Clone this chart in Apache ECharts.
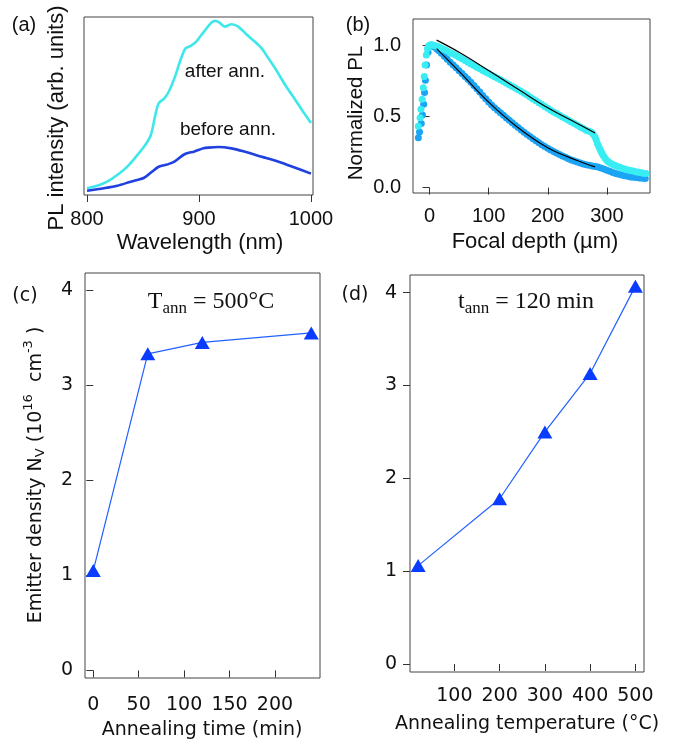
<!DOCTYPE html>
<html>
<head>
<meta charset="utf-8">
<script src="https://cdn.jsdelivr.net/npm/echarts@6/dist/echarts.min.js"></script>
<style>
html,body{margin:0;padding:0;background:#fff;}
#c{width:683px;height:742px;}
</style>
</head>
<body>
<div id="c"></div>
<script>
// ---- Panel (a): PL spectra ----
const aAfterX = [800,809,818,827,836,845,852,857,861,864,869,873,878,884,888,893,898,905,914,918,923,929,935,943,950,956,960,968,977,986,993,1000];
const aAfterY = [0.038,0.052,0.075,0.112,0.159,0.225,0.281,0.337,0.449,0.515,0.543,0.58,0.655,0.768,0.824,0.839,0.865,0.922,0.978,0.97,0.946,0.959,0.946,0.899,0.861,0.824,0.787,0.712,0.618,0.534,0.468,0.405];
const aBeforeX = [800,815,827,839,851,858,864,872,878,887,896,904,908,917,929,941,956,971,986,1000];
const aBeforeY = [0.024,0.038,0.052,0.075,0.097,0.131,0.159,0.172,0.187,0.229,0.245,0.262,0.266,0.27,0.262,0.243,0.215,0.187,0.153,0.12];
const aTicks = [800,900,1000];

// ---- Panel (b): normalized PL vs focal depth ----
const bCyanX = [-19,-16,-14.5,-12.5,-10.5,-9,-7.5,-5.5,-3.5,-1.5,1,4,7,10,14,18,22,26,30,35,40,45,50,55,60,65,70,75,80,85,90,95,100,105,110,115,120,125,130,135,140,145,150,155,160,165,170,175,180,185,190,195,200,205,210,215,220,225,230,235,240,245,250,255,260,265,270,274,277,280,282,284,286,288,290,292,294,297,300,303,306,310,314,318,322,326,330,334,338,342,346,350,354,358,362,366];
const bCyanY = [0.43,0.49,0.55,0.62,0.70,0.78,0.86,0.93,0.975,0.995,1.0,1.0,0.998,0.995,0.99,0.983,0.975,0.967,0.958,0.947,0.937,0.926,0.915,0.904,0.892,0.88,0.868,0.857,0.845,0.834,0.822,0.811,0.80,0.789,0.778,0.767,0.756,0.744,0.732,0.721,0.709,0.698,0.686,0.675,0.662,0.649,0.636,0.622,0.609,0.596,0.583,0.569,0.556,0.543,0.53,0.519,0.507,0.496,0.484,0.473,0.461,0.449,0.437,0.426,0.414,0.402,0.395,0.388,0.375,0.355,0.335,0.31,0.29,0.273,0.255,0.24,0.225,0.205,0.19,0.18,0.17,0.162,0.155,0.148,0.142,0.136,0.13,0.126,0.122,0.118,0.114,0.11,0.107,0.104,0.101,0.098];
const bBlueX = [-19,-17,-14,-12,-10,-8.5,-7,-5,-2.5,0,3,6,9,12,15,20,25,30,35,40,45,50,55,60,65,70,75,80,85,90,95,100,105,110,115,120,125,130,135,140,145,150,155,160,165,170,175,180,185,190,195,200,205,210,215,220,225,230,235,240,245,250,255,260,265,270,275,280,285,290,295,300,305,310,315,320,325,330,335,340,345,350,355,360,365];
const bBlueY = [0.35,0.39,0.45,0.51,0.585,0.667,0.753,0.86,0.95,0.99,1.0,0.995,0.985,0.975,0.962,0.942,0.921,0.9,0.88,0.861,0.841,0.82,0.8,0.78,0.76,0.739,0.717,0.694,0.671,0.647,0.623,0.60,0.58,0.561,0.543,0.525,0.507,0.489,0.472,0.455,0.438,0.421,0.404,0.388,0.373,0.358,0.343,0.328,0.314,0.301,0.288,0.276,0.264,0.253,0.242,0.232,0.222,0.212,0.202,0.194,0.186,0.179,0.172,0.166,0.161,0.156,0.152,0.148,0.144,0.138,0.13,0.122,0.114,0.106,0.099,0.093,0.088,0.083,0.079,0.075,0.072,0.07,0.067,0.065,0.063];
const bFitCyanX = [12,50,100,150,200,250,280];
const bFitCyanY = [1.035,0.95,0.822,0.69,0.56,0.45,0.383];
const bFitBlueX = [12,50,100,150,200,250,280];
const bFitBlueY = [0.975,0.815,0.60,0.42,0.28,0.19,0.145];
const bXTicks = [0,100,200,300];
const bYTicks = [0,0.5,1.0];

// ---- Panel (c): emitter density vs annealing time ----
const cTime = [0,60,120,240];
const cDensity = [1.05,3.33,3.45,3.55];
const cXTicks = [0,50,100,150,200];
const cYTicks = [0,1,2,3,4];

// ---- Panel (d): emitter density vs annealing temperature ----
const dTemp = [20,200,300,400,500];
const dDensity = [1.06,1.78,2.50,3.13,4.07];
const dXTicks = [100,200,300,400,500];
const dYTicks = [0,1,2,3,4];

const zip = (xs, ys) => xs.map((x, i) => [x, ys[i]]);

const SANS = '"Liberation Sans", Arial, sans-serif';
const SANS2 = '"DejaVu Sans", sans-serif';
const SERIF = '"Liberation Serif", "DejaVu Serif", serif';

function grid(l, t, w, h) {
  return {left: l, top: t, width: w, height: h, show: true, borderColor: '#444', borderWidth: 1, backgroundColor: 'transparent', containLabel: false};
}
function axis(gi, min, max, ticks, font, size, margin, fmt, showTicks) {
  return {
    type: 'value', gridIndex: gi, min: min, max: max,
    axisLine: {show: false},
    splitLine: {show: false},
    axisTick: {show: showTicks !== false, inside: false, length: 7, lineStyle: {color: '#333', width: 1}, customValues: ticks},
    axisLabel: {show: showTicks !== false, customValues: ticks, fontFamily: font, fontSize: size, color: '#111', margin: margin,
      formatter: fmt || (v => String(v))}
  };
}

const option = {
  animation: false,
  backgroundColor: '#fff',
  grid: [
    grid(84, 17, 229, 178),
    grid(413, 19, 237, 174),
    grid(85, 273, 235, 405),
    grid(410, 275, 234, 397)
  ],
  xAxis: [
    axis(0, 797.3, 1001.8, aTicks, SANS, 20, 14),
    axis(1, -28, 373, bXTicks, SANS, 20, 13),
    axis(2, -9.1, 249.6, cXTicks, SANS2, 19, 18),
    axis(3, 2, 519, dXTicks, SANS2, 19, 15)
  ],
  yAxis: [
    axis(0, 0, 1, [], SANS, 20, 10, null, false),
    axis(1, -0.038, 1.183, bYTicks, SANS, 20, 12, v => v.toFixed(1)),
    axis(2, -0.08, 4.18, cYTicks, SANS2, 19, 12),
    axis(3, -0.086, 4.19, dYTicks, SANS2, 19, 13)
  ],
  series: [
    {type: 'line', xAxisIndex: 0, yAxisIndex: 0, data: zip(aAfterX, aAfterY), showSymbol: false, smooth: 0.3,
      lineStyle: {color: '#3ee8ea', width: 2.6}},
    {type: 'line', xAxisIndex: 0, yAxisIndex: 0, data: zip(aBeforeX, aBeforeY), showSymbol: false, smooth: 0.3,
      lineStyle: {color: '#2040e0', width: 2.6}},
    {type: 'scatter', xAxisIndex: 1, yAxisIndex: 1, data: zip(bBlueX, bBlueY), symbolSize: 7,
      itemStyle: {color: '#1ba4f4', opacity: 1}},
    {type: 'scatter', xAxisIndex: 1, yAxisIndex: 1, data: zip(bCyanX, bCyanY), symbolSize: 7,
      itemStyle: {color: '#38eef2', opacity: 1}},
    {type: 'line', xAxisIndex: 1, yAxisIndex: 1, data: zip(bFitCyanX, bFitCyanY), showSymbol: false, smooth: 0.4,
      lineStyle: {color: '#000', width: 1.2}, z: 5},
    {type: 'line', xAxisIndex: 1, yAxisIndex: 1, data: zip(bFitBlueX, bFitBlueY), showSymbol: false, smooth: 0.4,
      lineStyle: {color: '#000', width: 1.2}, z: 5},
    {type: 'line', xAxisIndex: 2, yAxisIndex: 2, data: zip(cTime, cDensity), symbol: 'triangle', symbolSize: [15, 13],
      showAllSymbol: true, clip: false,
      lineStyle: {color: '#2160ff', width: 1.2}, itemStyle: {color: '#0a3cff'}},
    {type: 'line', xAxisIndex: 3, yAxisIndex: 3, data: zip(dTemp, dDensity), symbol: 'triangle', symbolSize: [15, 13],
      showAllSymbol: true, clip: false,
      lineStyle: {color: '#2160ff', width: 1.2}, itemStyle: {color: '#0a3cff'}}
  ],
  graphic: [
    // panel labels
    {type: 'text', x: 24, y: 25, style: {text: '(a)', font: '20px ' + SANS, fill: '#111', align: 'center', verticalAlign: 'middle'}},
    {type: 'text', x: 358, y: 25, style: {text: '(b)', font: '20px ' + SANS, fill: '#111', align: 'center', verticalAlign: 'middle'}},
    {type: 'text', x: 25, y: 296, style: {text: '(c)', font: '19px ' + SANS2, fill: '#111', align: 'center', verticalAlign: 'middle'}},
    {type: 'text', x: 355, y: 295, style: {text: '(d)', font: '19px ' + SANS2, fill: '#111', align: 'center', verticalAlign: 'middle'}},
    // panel (a) texts
    {type: 'text', x: 57, y: 118, rotation: Math.PI / 2, style: {text: 'PL intensity (arb. units)', font: '22px ' + SANS, fill: '#111', align: 'center', verticalAlign: 'middle'}},
    {type: 'text', x: 200, y: 243, style: {text: 'Wavelength (nm)', font: '22px ' + SANS, fill: '#111', align: 'center', verticalAlign: 'middle'}},
    {type: 'text', x: 225, y: 72, style: {text: 'after ann.', font: '19px ' + SANS, fill: '#111', align: 'center', verticalAlign: 'middle'}},
    {type: 'text', x: 228, y: 130, style: {text: 'before ann.', font: '19px ' + SANS, fill: '#111', align: 'center', verticalAlign: 'middle'}},
    // panel (b) texts
    {type: 'text', x: 356, y: 113, rotation: Math.PI / 2, style: {text: 'Normalized PL', font: '20.5px ' + SANS, fill: '#111', align: 'center', verticalAlign: 'middle'}},
    {type: 'text', x: 535, y: 242, style: {text: 'Focal depth (\u00b5m)', font: '22px ' + SANS, fill: '#111', align: 'center', verticalAlign: 'middle'}},
    // panel (c) texts
    {type: 'text', x: 36, y: 475, rotation: Math.PI / 2, style: {
      text: '{n|Emitter density N}{sub|V}{n| (10}{sup|16}{n|  cm}{sup|-3}{n| )}',
      align: 'center', verticalAlign: 'middle',
      rich: {
        n: {font: '19px ' + SANS2, fill: '#111', lineHeight: 30, verticalAlign: 'middle'},
        sub: {font: '13px ' + SANS2, fill: '#111', lineHeight: 30, verticalAlign: 'bottom', padding: [0, 0, 4, 0]},
        sup: {font: '13px ' + SANS2, fill: '#111', lineHeight: 30, verticalAlign: 'top', padding: [1, 0, 0, 0]}
      }}},
    {type: 'text', x: 202, y: 730, style: {text: 'Annealing time (min)', font: '19px ' + SANS2, fill: '#111', align: 'center', verticalAlign: 'middle'}},
    {type: 'text', x: 211, y: 302, style: {
      text: '{m|T}{s|ann}{m| = 500\u00b0C}', align: 'center', verticalAlign: 'middle',
      rich: {
        m: {font: '24px ' + SERIF, fill: '#111', lineHeight: 34, verticalAlign: 'middle'},
        s: {font: '17px ' + SERIF, fill: '#111', lineHeight: 34, verticalAlign: 'bottom', padding: [0, 0, 2, 0]}
      }}},
    // panel (d) texts
    {type: 'text', x: 527, y: 724, style: {text: 'Annealing temperature (\u00b0C)', font: '19px ' + SANS2, fill: '#111', align: 'center', verticalAlign: 'middle'}},
    {type: 'text', x: 526, y: 302, style: {
      text: '{m|t}{s|ann}{m| = 120 min}', align: 'center', verticalAlign: 'middle',
      rich: {
        m: {font: '24px ' + SERIF, fill: '#111', lineHeight: 34, verticalAlign: 'middle'},
        s: {font: '17px ' + SERIF, fill: '#111', lineHeight: 34, verticalAlign: 'bottom', padding: [0, 0, 2, 0]}
      }}}
  ]
};

const chart = echarts.init(document.getElementById('c'), null, {renderer: 'canvas', width: 683, height: 742});
chart.setOption(option);
</script>
</body>
</html>
